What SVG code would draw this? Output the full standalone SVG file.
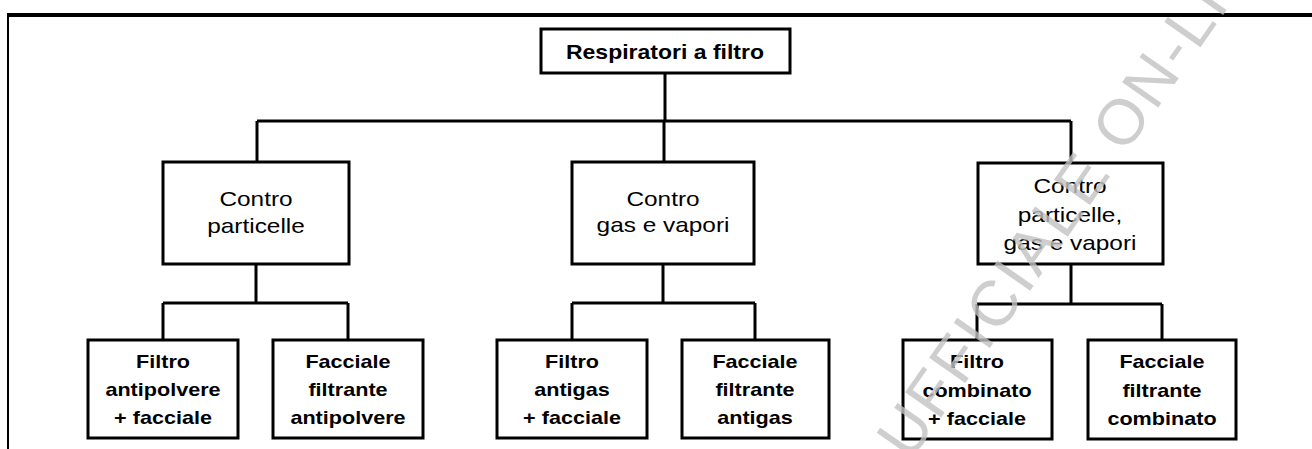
<svg xmlns="http://www.w3.org/2000/svg" width="1312" height="449" viewBox="0 0 1312 449">
<style>
.box{fill:#fff;stroke:#000;stroke-width:3}
.conn{fill:none;stroke:#000;stroke-width:3}
.frame{fill:#000}
.t0{font-family:"Liberation Sans",Arial,sans-serif;font-size:20px;font-weight:bold;text-anchor:middle;fill:#000}
.t2{font-family:"Liberation Sans",Arial,sans-serif;font-size:20px;text-anchor:middle;fill:#000}
.t3{font-family:"Liberation Sans",Arial,sans-serif;font-size:18px;font-weight:bold;text-anchor:middle;fill:#000}
.wm{font-family:"Liberation Sans",Arial,sans-serif;font-size:64px;letter-spacing:3px;fill:#c2c2c2;fill-opacity:0.8}
</style>
<rect width="1312" height="449" fill="#fff"/>
<g id="frame">
<rect class="frame" x="7" y="13" width="1305" height="4"/>
<rect class="frame" x="7" y="13" width="2" height="436"/>
</g>
<g id="connectors">
<path class="conn" d="M665 73V121M257 121H1071M257 121V162M664 121V162M1071 121V162"/>
<path class="conn" d="M256 264V303M163 303H348M163 303V340M348 303V340"/>
<path class="conn" d="M663 264V303M572 303H755M572 303V340M755 303V340"/>
<path class="conn" d="M1071 264V304M977 304H1162M977 304V340M1162 304V340"/>
</g>
<g id="root">
<rect class="box" x="541" y="29" width="249" height="44"/>
<text class="t0" transform="translate(665,0) scale(1.15,1)" y="59">Respiratori a filtro</text>
</g>
<g id="n-particelle">
<rect class="box" x="163" y="162" width="186" height="102"/>
<text class="t2" transform="translate(256,0) scale(1.22,1)"><tspan x="0" y="206">Contro</tspan><tspan x="0" y="233">particelle</tspan></text>
</g>
<g id="n-gas">
<rect class="box" x="572" y="162" width="182" height="102"/>
<text class="t2" transform="translate(663,0) scale(1.22,1)"><tspan x="0" y="206">Contro</tspan><tspan x="0" y="232">gas e vapori</tspan></text>
</g>
<g id="n-combinato">
<rect class="box" x="978" y="163" width="185" height="101"/>
<text class="t2" transform="translate(1070,0) scale(1.22,1)"><tspan x="0" y="193">Contro</tspan><tspan x="0" y="222">particelle,</tspan><tspan x="0" y="250">gas e vapori</tspan></text>
</g>
<g id="l3-1">
<rect class="box" x="88" y="340" width="150" height="98"/>
<text class="t3" transform="translate(163,0) scale(1.2,1)"><tspan x="0" y="368">Filtro</tspan><tspan x="0" y="396">antipolvere</tspan><tspan x="0" y="424">+ facciale</tspan></text>
</g>
<g id="l3-2">
<rect class="box" x="273" y="340" width="150" height="98"/>
<text class="t3" transform="translate(348,0) scale(1.2,1)"><tspan x="0" y="368">Facciale</tspan><tspan x="0" y="396">filtrante</tspan><tspan x="0" y="424">antipolvere</tspan></text>
</g>
<g id="l3-3">
<rect class="box" x="497" y="340" width="150" height="98"/>
<text class="t3" transform="translate(572,0) scale(1.2,1)"><tspan x="0" y="368">Filtro</tspan><tspan x="0" y="396">antigas</tspan><tspan x="0" y="424">+ facciale</tspan></text>
</g>
<g id="l3-4">
<rect class="box" x="682" y="340" width="147" height="98"/>
<text class="t3" transform="translate(755,0) scale(1.2,1)"><tspan x="0" y="368">Facciale</tspan><tspan x="0" y="396">filtrante</tspan><tspan x="0" y="424">antigas</tspan></text>
</g>
<g id="l3-5">
<rect class="box" x="903" y="340" width="149" height="99"/>
<text class="t3" transform="translate(977,0) scale(1.2,1)"><tspan x="0" y="368">Filtro</tspan><tspan x="0" y="397">combinato</tspan><tspan x="0" y="425">+ facciale</tspan></text>
</g>
<g id="l3-6">
<rect class="box" x="1088" y="340" width="148" height="99"/>
<text class="t3" transform="translate(1162,0) scale(1.2,1)"><tspan x="0" y="368">Facciale</tspan><tspan x="0" y="397">filtrante</tspan><tspan x="0" y="425">combinato</tspan></text>
</g>
<g id="watermark">
<text class="wm" transform="translate(910,462) rotate(-55)">UFFICIALE ON-LINE</text>
</g>
</svg>
